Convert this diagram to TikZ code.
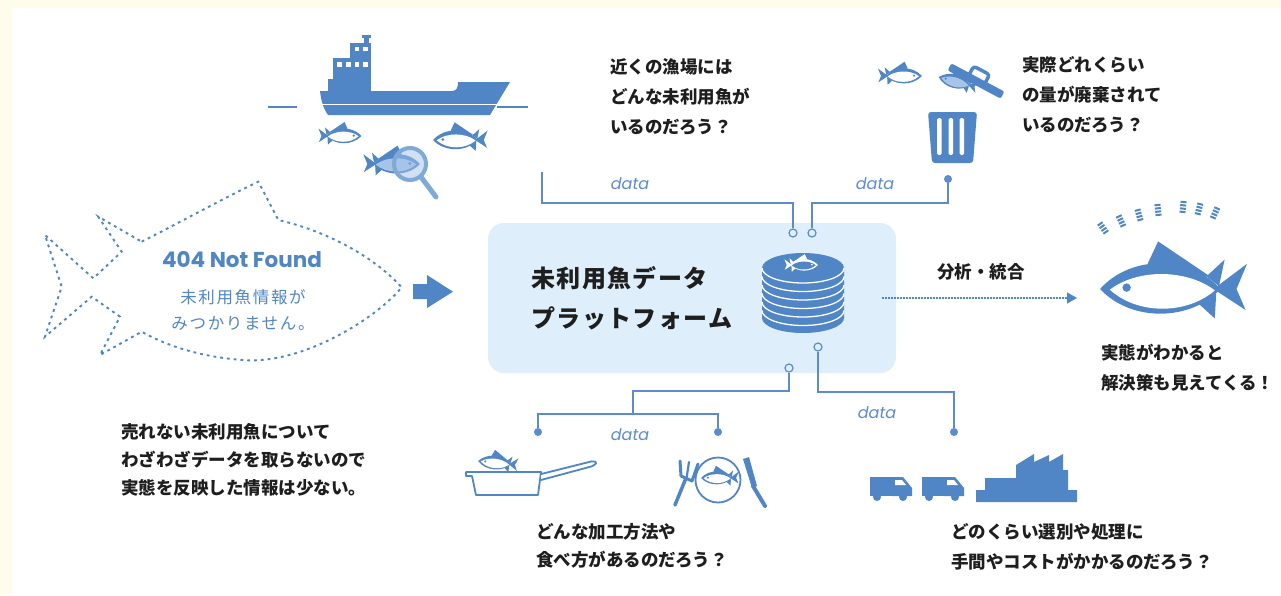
\documentclass[tikz,border=0pt]{standalone}
\usepackage{fontspec}
\setmainfont{Noto Sans CJK JP}
\newfontfamily\jpfont{Noto Sans CJK JP}
\newfontfamily\jptitle{Noto Sans CJK JP}[LetterSpace=6]
\newfontfamily\jpblue{Noto Sans CJK JP}[LetterSpace=10]
\newfontfamily\latinfont{Poppins}
\usetikzlibrary{positioning, arrows.meta}

\definecolor{iconblue}{RGB}{80,134,197}
\definecolor{wireblue}{RGB}{92,140,206}
\definecolor{paleblue}{RGB}{165,196,232}
\definecolor{lensblue}{RGB}{125,170,215}
\definecolor{boxblue}{RGB}{222,238,250}
\definecolor{cream}{RGB}{255,252,236}
\definecolor{inkblack}{RGB}{30,30,30}

\tikzset{
  fish top/.store in=\fishtop, fish top=iconblue,
  fish belly/.store in=\fishbelly, fish belly=white,
  pics/fish/.style={code={
    % body, fins and tail
    \fill[\fishtop] (-1,0) .. controls (-0.55,-0.5) and (0.3,-0.48) .. (0.72,0)
      .. controls (0.3,0.46) and (-0.55,0.48) .. cycle;
    \fill[\fishtop] (-0.32,-0.36) -- (-0.17,-0.68) -- (0.6,-0.16) -- cycle;
    \fill[\fishtop] (0.52,-0.18) -- (0.78,-0.42) -- (0.7,-0.04) -- cycle;
    \fill[\fishtop] (0.42,0.22) -- (0.64,0.42) -- (0.66,0.06) -- cycle;
    \fill[\fishtop] (0.62,0) -- (1.1,-0.36) -- (0.95,0) -- (1.08,0.3) -- cycle;
    % belly and eye
    \fill[\fishbelly] (-0.86,0.01) .. controls (-0.45,-0.3) and (0.25,-0.28) .. (0.64,0.02)
      .. controls (0.25,0.36) and (-0.45,0.38) .. cycle;
    \fill[\fishtop] (-0.62,-0.02) circle[radius=0.06];
  }},
}

\begin{document}
\begin{tikzpicture}[x=1pt, y=-1pt,
    wire/.style={wireblue, line width=1.3},
    opendot/.style={circle, draw=wireblue, fill=boxblue, line width=1.2, minimum size=8, inner sep=0pt},
    fulldot/.style={circle, fill=wireblue, minimum size=8, inner sep=0pt},
    note/.style={anchor=north west, inner sep=0pt, align=left, text=inkblack, font=\jpfont\bfseries\fontsize{17.5}{30}\selectfont},
    datatag/.style={text=wireblue, inner sep=0pt, font=\latinfont\itshape\fontsize{16}{16}\selectfont},
    dotline/.style={iconblue, line width=1.9, dash pattern=on 2.8pt off 4pt},
    panline/.style={iconblue, line width=1.8},
    buzz/.style={iconblue, line width=6, dash pattern=on 2pt off 1.3pt}
]

% page background
\fill[cream] (0,0) rectangle (1281,595);
\fill[white] (12,8) rectangle (1281,595);

% ship on the water
\draw[iconblue, line width=1.5] (268,107) -- (297,107) (497,107) -- (528,107);
\fill[iconblue] (320,91) -- (452,91) .. controls (457,91) and (458,87) .. (458,82) -- (510,82)
  -- (490,115) -- (328,115) .. controls (323,108) and (321,100) .. cycle;
\draw[white, line width=1.8] (318,104.5) -- (510,104.5);
\fill[iconblue] (328,79) rectangle (371,92);
\fill[iconblue] (333,58) rectangle (371,92);
\fill[iconblue] (350,43) rectangle (371,58);
\fill[iconblue] (364,37) rectangle (369,43);
\fill[iconblue] (362,35) rectangle (371,38);
\foreach \wx in {337,346,354.5,363}
  \fill[white] (\wx,61.5) rectangle ++(4.5,5);
\foreach \wx in {354.5,363}
  \fill[white] (\wx,46.5) rectangle ++(4.5,4.5);

% fish below the ship
\pic[scale=20.5, xscale=-1] at (341,136) {fish};
\pic[scale=26] at (459,140) {fish};
\pic[scale=27, xscale=-1, fish belly=paleblue] at (393,164) {fish};
\fill[paleblue, opacity=0.5] (410,164) circle[radius=16];
\draw[lensblue, line width=4] (410,164) circle[radius=16];
\draw[lensblue, line width=5, line cap=round] (421,177) -- (436,197);

% fish that was not found
\draw[dotline] (141.7,241.7) .. controls (175,225) and (220,200) .. (258.3,181.7)
  -- (278.3,220) .. controls (330,232) and (375,258) .. (401.7,287.3)
  .. controls (375,320) and (300,365) .. (243,360)
  .. controls (200,357) and (165,345) .. (141.7,331.7)
  -- (100,355) -- (120,316.7) -- (91.7,296.7) -- (45,336.7) -- (61.7,286.7)
  -- (45,235) -- (93.3,278.3) -- (121.7,251.7) -- (98.3,216.7) -- cycle;
\node[text=iconblue, inner sep=0pt, font=\latinfont\bfseries\fontsize{21.5}{21.5}\selectfont]
  (lost) at (242,260) {404 Not Found};
\node[text=iconblue, inner sep=0pt, align=center, font=\jpblue\fontsize{16.5}{26}\selectfont]
  (lostmsg) at (243,310) {未利用魚情報が\\みつかりません。};
\fill[iconblue] (413,284) -- (427,284) -- (427,275) -- (453,291.7) -- (427,308) -- (427,299)
  -- (413,299) -- cycle;

% platform
\node[fill=boxblue, rounded corners=16, minimum width=408, minimum height=150, inner sep=0pt]
  (platform) at (692,298) {};
\node[anchor=north west, inner sep=0pt, align=left, text=inkblack,
  font=\jptitle\bfseries\fontsize{24}{40}\selectfont] (title) at (531,266) {未利用魚データ\\プラットフォーム};

% wires into and out of the platform
\node[opendot] (inA) at (793,233) {};
\node[opendot] (inB) at (812,233) {};
\node[opendot] (outA) at (818,347) {};
\node[opendot] (outB) at (789,368) {};
\node[fulldot] (dumpdot) at (948,179) {};
\node[fulldot] (cookdot) at (538,432) {};
\node[fulldot] (eatdot) at (718,432) {};
\node[fulldot] (logdot) at (954,432) {};
\coordinate (groundend) at (542,172);
\coordinate (busA) at (660,203);
\coordinate (busB) at (880,203);
\coordinate (busC) at (633,391);
\coordinate (busJ) at (633,414);
\coordinate (busE) at (880,392);
\draw[wire] (groundend) |- (busA) -| (inA);
\draw[wire] (inB) |- (busB) -| (dumpdot);
\draw[wire] (outB) |- (busC) -- (busJ);
\draw[wire] (cookdot) |- (busJ) -| (eatdot);
\draw[wire] (outA) |- (busE) -| (logdot);
\node[datatag] (dataA) at (630,184) {data};
\node[datatag] (dataB) at (875,184) {data};
\node[datatag] (dataC) at (630,435) {data};
\node[datatag] (dataD) at (877,413) {data};

% stacked database
\fill[iconblue] (762,268) -- (762,318) arc[start angle=180, end angle=0, x radius=41, y radius=15]
  -- (844,268) -- cycle;
\fill[iconblue] (803,268) ellipse[x radius=41, y radius=15];
\foreach \c in {268,276.5,...,310.5}
  \draw[white, line width=1.3] (762,\c) arc[start angle=180, end angle=0, x radius=41, y radius=15];
\pic[scale=16, xscale=-1, fish top=white, fish belly=iconblue] at (802,265) {fish};

% analysis towards the result
\coordinate (feedstart) at (882,298);
\coordinate (feedend) at (1077,298);
\draw[iconblue, line width=1.5, dash pattern=on 1.5pt off 1.5pt, -{Triangle[length=10pt, width=11pt]}]
  (feedstart) -- (feedend);
\node[inner sep=0pt, text=inkblack, font=\jpfont\bfseries\fontsize{17.5}{17.5}\selectfont] (merge) at (981,272) {分析・統合};

% result fish
\foreach \x/\y/\a in {1103/228/35, 1121/221/25, 1139/215/15, 1158/210/6, 1183/207/-6, 1199/209/-14, 1215/213/-24}
  \draw[buzz] ({\x-6*sin(\a)},{\y-6*cos(\a)}) -- ({\x+6*sin(\a)},{\y+6*cos(\a)});
\pic[scale=70] at (1170,289) {fish};

% trash can and its lid
\pic[scale=21, xscale=-1] at (901,76) {fish};
\fill[iconblue, rounded corners=3] (928,112) -- (977,112) -- (973,163) -- (932,163) -- cycle;
\foreach \sx in {937,948.5,959.5}
  \fill[white, rounded corners=1.5] (\sx,118) rectangle ++(4.5,37);
\begin{scope}[shift={(976,81)}, rotate=-28]
  \fill[iconblue, rounded corners=2] (-30,-4) rectangle (30,4);
  \draw[iconblue, line width=3.5, rounded corners=3] (-9,-3) -- (-9,-12) -- (9,-12) -- (9,-3);
\end{scope}
\pic[scale=19, rotate=-15, fish belly=paleblue] at (957,82) {fish};

% pan with a fish
\pic[scale=19, rotate=-6] at (497,463) {fish};
\draw[panline, fill=white, line join=round] (466,472) -- (541,472) -- (538,495) -- (476,495)
  -- (472,476) -- (466,476) -- cycle;
\draw[panline, fill=white, rounded corners=1.5] (541,474) -- (593,461) -- (597,462.5) -- (593,466) -- (541,480);

% plate with fork and knife
\draw[panline, fill=white] (718,480) circle[radius=22.5];
\pic[scale=18] at (719,478) {fish};
\draw[iconblue, line width=3.5, line cap=round] (675,505) -- (686,478);
\draw[iconblue, line width=3, line cap=round, line join=round] (680,461) -- (681,476) -- (692,481) -- (698,464);
\draw[iconblue, line width=2.2, line cap=round] (686.5,478.5) -- (689,462);
\fill[iconblue] (743,459) -- (749,457) -- (757,486) -- (752,488) -- cycle;
\draw[iconblue, line width=4, line cap=round] (753,486) -- (765,506);

% trucks and factory
\foreach \tx in {870,922} {
  \fill[iconblue] (\tx,477) rectangle ++(22,19);
  \fill[iconblue] (\tx+22,477) -- (\tx+33,477) -- (\tx+42,488) -- (\tx+42,496) -- (\tx+22,496) -- cycle;
  \fill[white] (\tx+25,480) -- (\tx+32,480) -- (\tx+36,485) -- (\tx+25,485) -- cycle;
  \fill[iconblue] (\tx+7,497) circle[radius=4];
  \fill[iconblue] (\tx+33,497) circle[radius=4];
}
\fill[iconblue] (976,502) -- (976,490) -- (985,490) -- (985,478) -- (1016,478) -- (1016,465)
  -- (1034,454) -- (1034,462) -- (1049,455) -- (1049,462) -- (1063,454) -- (1063,470)
  -- (1068,470) -- (1068,490) -- (1077,490) -- (1077,502) -- cycle;

% questions and notes
\node[note] (ground) at (610,58) {近くの漁場には\\どんな未利用魚が\\いるのだろう？};
\node[note] (dump) at (1022,56) {実際どれくらい\\の量が廃棄されて\\いるのだろう？};
\node[note] (result) at (1101,344) {実態がわかると\\解決策も見えてくる！};
\node[note, font=\jpfont\bfseries\fontsize{17.5}{28.3}\selectfont] (unsold) at (121,423)
  {売れない未利用魚について\\わざわざデータを取らないので\\実態を反映した情報は少ない。};
\node[note, font=\jpfont\bfseries\fontsize{17.5}{28.3}\selectfont] (cook) at (536,523)
  {どんな加工方法や\\食べ方があるのだろう？};
\node[note] (logistics) at (951,523) {どのくらい選別や処理に\\手間やコストがかかるのだろう？};

\end{tikzpicture}
\end{document}
